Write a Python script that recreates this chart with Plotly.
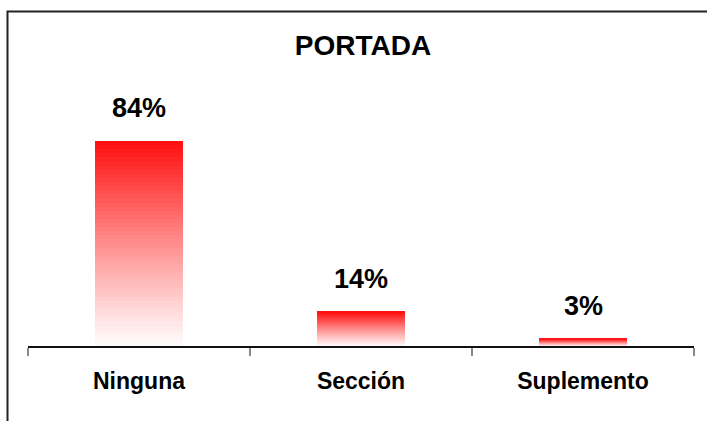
import plotly.graph_objects as go

categories = ["Ninguna", "Sección", "Suplemento"]
values = [84, 14, 3]
value_labels = ["84%", "14%", "3%"]
title_text = "PORTADA"

FONT = "Liberation Sans, Arial, sans-serif"
N = 50  # gradient slices per bar

top_rgb = (255, 14, 14)
bottom_rgb = (255, 252, 252)

fig = go.Figure()
for i in range(N):
    t = (i + 0.5) / N
    s = t ** 1.1
    r = round(bottom_rgb[0] + (top_rgb[0] - bottom_rgb[0]) * s)
    g = round(bottom_rgb[1] + (top_rgb[1] - bottom_rgb[1]) * s)
    b = round(bottom_rgb[2] + (top_rgb[2] - bottom_rgb[2]) * s)
    fig.add_trace(go.Bar(
        x=categories,
        y=[v / N for v in values],
        marker=dict(color=f"rgb({r},{g},{b})", line=dict(width=0)),
        showlegend=False,
        hoverinfo="skip",
    ))

for c, v, lab in zip(categories, values, value_labels):
    fig.add_annotation(x=c, y=v, text=f"<b>{lab}</b>", showarrow=False,
                       yanchor="middle", yshift=33,
                       font=dict(family=FONT, size=27, color="black"))

# plot area: x 28..694, y 102..346
L, R, T, B = 28, 13, 102, 75
W, H = 707, 421
pw, ph = W - L - R, H - T - B
def px2paper_x(px):
    return (px - L) / pw
def px2paper_y(py):
    return (H - B - py) / ph

xl = px2paper_x(7.5)
yt = px2paper_y(11.5)
fig.add_shape(type="path",
              path=f"M {xl},{px2paper_y(430)} L {xl},{yt} L {px2paper_x(720)},{yt}",
              xref="paper", yref="paper",
              line=dict(color="#222222", width=2))

fig.update_layout(
    width=W, height=H,
    margin=dict(l=L, r=R, t=T, b=B),
    barmode="stack",
    bargap=0.6,
    paper_bgcolor="white",
    plot_bgcolor="white",
    title=dict(text=f"<b>{title_text}</b>", x=(363) / W, xanchor="center",
               y=1 - 45 / H, yanchor="middle", yref="container", xref="container",
               font=dict(family=FONT, size=28, color="black")),
    xaxis=dict(
        type="category",
        showline=True, linecolor="#111111", linewidth=1.5,
        ticks="outside", tickson="boundaries", ticklen=8,
        tickcolor="#888888", tickwidth=2,
        tickfont=dict(family=FONT, size=23, color="black"),
        ticklabelstandoff=14,
        showgrid=False, zeroline=False,
    ),
    yaxis=dict(range=[0, 100], visible=False, showgrid=False, zeroline=False),
)
fig.update_xaxes(tickvals=categories, ticktext=[f"<b>{c}</b>" for c in categories])

fig.write_html("out.html", config={"displayModeBar": False},
               post_script="document.body.style.margin='0';document.body.style.padding='0';")
